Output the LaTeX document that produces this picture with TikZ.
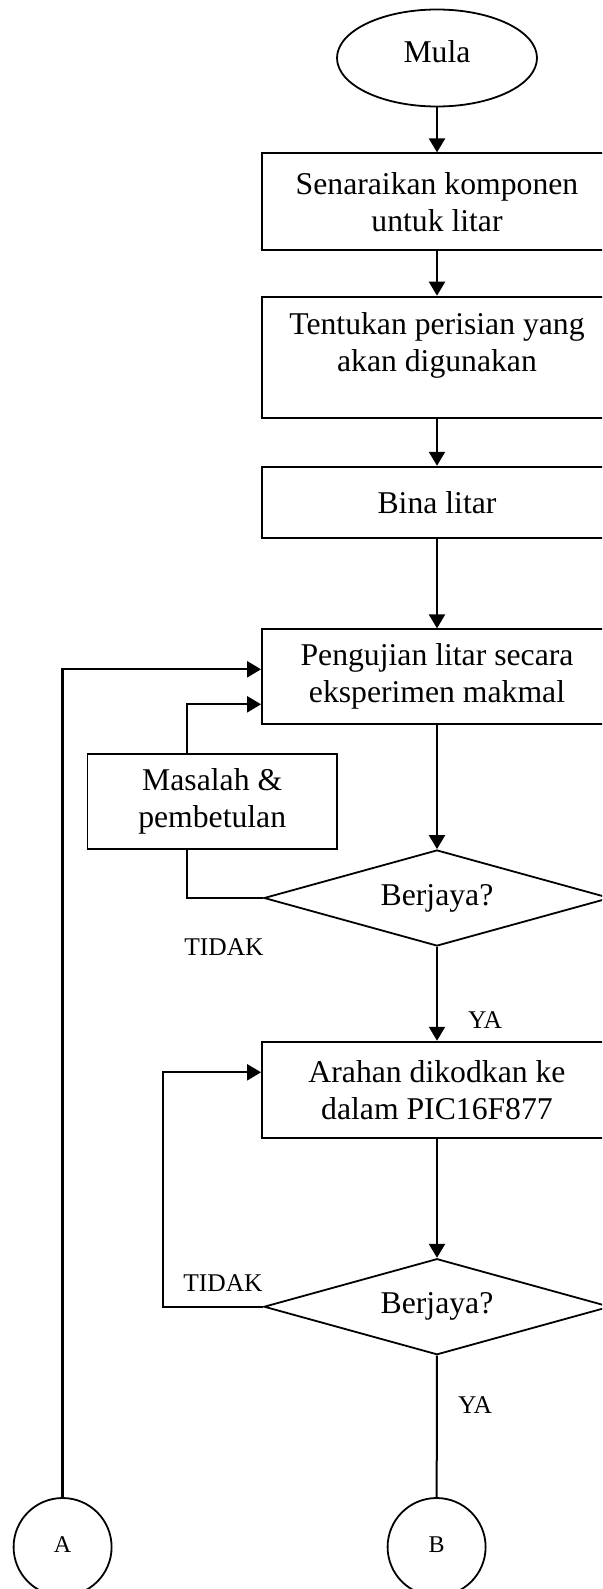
\documentclass[tikz,border=0pt]{standalone}
\usepackage{fontspec}
\setmainfont{Liberation Serif}
\usetikzlibrary{shapes.geometric,arrows.meta,calc}
\begin{document}
\begin{tikzpicture}[x=1pt,y=-1pt,
  every node/.style={font=\fontsize{31.7}{37}\selectfont},
  box/.style={draw, line width=1.9pt, rectangle, inner sep=0pt, align=center},
  txt/.style={align=center, inner sep=0pt},
  term/.style={ellipse, draw, line width=1.8pt, minimum width=200pt, minimum height=97pt, inner sep=0pt, text depth=12pt},
  dec/.style={diamond, draw, line width=1.8pt, minimum width=346pt, minimum height=96pt, inner sep=0pt, shape aspect=3.6},
  conn/.style={circle, draw, line width=1.8pt, minimum size=98pt, inner sep=0pt, font=\fontsize{24}{28}\selectfont, text depth=5pt},
  lbl/.style={inner sep=0pt, font=\fontsize{25.5}{30}\selectfont},
  con/.style={line width=2.3pt, -{Triangle[length=14pt,width=16pt]}},
  plain/.style={line width=2pt}]
\clip (0,0) rectangle (602,1589);
\node[term] (start) at (437,58) {Mula};
\node[box, minimum width=350pt, minimum height=96.7pt] (b1) at (437,201.7) {Senaraikan komponen\\untuk litar};
\node[box, minimum width=350pt, minimum height=121.7pt] (b2) at (437,357.5) {};
\node[txt] (t2) at (437,345) {Tentukan perisian yang\\akan digunakan};
\node[box, minimum width=350pt, minimum height=71.6pt] (b3) at (437,502.5) {Bina litar};
\node[box, minimum width=350pt, minimum height=95pt] (b4) at (437,676.8) {Pengujian litar secara\\eksperimen makmal};
\node[box, minimum width=249.5pt, minimum height=95pt] (m) at (212.2,801.8) {Masalah \&\\pembetulan};
\node[dec] (d1) at (437,898) {Berjaya?};
\node[box, minimum width=350pt, minimum height=96.6pt] (b5) at (437,1090) {Arahan dikodkan ke\\dalam PIC16F877};
\node[dec] (d2) at (437,1306.7) {Berjaya?};
\node[conn] (A) at (62.6,1547) {A};
\node[conn] (B) at (436.6,1547) {B};
\node[lbl] (no1) at (224,947.3) {TIDAK};
\node[lbl] (yes1) at (485,1020) {YA};
\node[lbl] (no2) at (223,1283.3) {TIDAK};
\node[lbl] (yes2) at (475,1405) {YA};
\draw[con] (start) -- (b1);
\draw[con] (b1) -- (b2);
\draw[con] (b2) -- (b3);
\draw[con] (b3) -- (b4);
\draw[con] (b4) -- (d1);
\draw[con] (d1) -- (b5);
\draw[con] (b5) -- (d2);
\draw[plain] (d2) -- (B);
\draw[con] (A.north) |- ($(b4.west)+(0,-7.5)$);
\draw[con] ($(m.north)+(-25.2,0)$) |- ($(b4.west)+(0,27.5)$);
\draw[plain] ($(m.south)+(-25.2,0)$) |- (d1.west);
\draw[con] (d2.west) -- ++(-100,0) |- ($(b5.west)+(0,-17.7)$);
\end{tikzpicture}
\end{document}
